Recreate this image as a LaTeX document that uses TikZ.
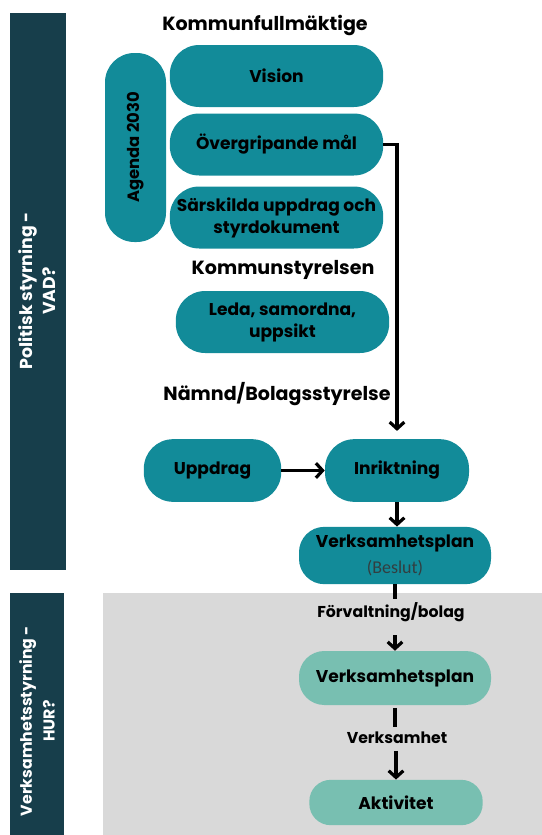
\documentclass[tikz,border=0pt]{standalone}
\usepackage{fontspec}
\setmainfont{Poppins}
\newfontfamily\notefont{Carlito}
\usepackage{xcolor}
\usepackage{tikz}
\usetikzlibrary{positioning, arrows.meta}
\definecolor{BarDark}{RGB}{23,62,75}
\definecolor{BoxTeal}{RGB}{18,139,153}
\definecolor{BoxLight}{RGB}{120,191,177}
\definecolor{HowGray}{RGB}{217,217,217}
\definecolor{NoteGray}{RGB}{50,62,64}
\tikzset{
  pill/.style={fill=BoxTeal, draw=none, rounded corners=22pt, align=center,
    font=\bfseries\fontsize{12.8}{16.5}\selectfont, inner sep=2pt, text=black},
  lightpill/.style={pill, fill=BoxLight},
  heading/.style={font=\bfseries\fontsize{14.3}{17}\selectfont, inner sep=1pt},
  flowlabel/.style={font=\bfseries\fontsize{11.8}{14}\selectfont, inner sep=2pt},
  bartext/.style={rotate=90, text=white, align=center, font=\bfseries\fontsize{13}{17}\selectfont},
  flow/.style={-{Straight Barb[length=5pt, width=11pt, line width=2.4pt]}, line width=2.4pt, black},
  plain/.style={line width=2.4pt, black},
}

\begin{document}
\begin{tikzpicture}[x=0.75pt, y=-0.75pt]
  \useasboundingbox (0,0) rectangle (542,835);
  % side bars and lower field
  \fill[BarDark] (10,13) rectangle (66,570);
  \fill[BarDark] (10,593) rectangle (64,835);
  \fill[HowGray] (103,593) rectangle (542,835);
  \node[bartext] (vad) at (37,291) {Politisk styrning -\\VAD?};
  \node[bartext, font=\bfseries\fontsize{11.8}{17}\selectfont] (hur) at (37,721)
    {Verksamhetsstyrning -\\HUR?};

  % Kommunfullmaktige
  \node[heading] (kf) at (265,25) {Kommunfullmäktige};
  \node[pill, minimum width=160pt, minimum height=46.5pt] (vision) at (276.5,76) {Vision};
  \node[pill, minimum width=160pt, minimum height=46.5pt] (ovg) at (276.5,144.5) {Övergripande mål};
  \node[pill, minimum width=160pt, minimum height=46.5pt] (sar) at (276.5,217.5)
    {Särskilda uppdrag och\\styrdokument};
  \node[pill, minimum width=141.75pt, minimum height=45.75pt, rotate=90,
    font=\bfseries\fontsize{12.3}{15}\selectfont] (agenda) at (135.5,147.5) {Agenda 2030};

  % Kommunstyrelsen
  \node[heading] (ks) at (283,270) {Kommunstyrelsen};
  \node[pill, minimum width=160pt, minimum height=46.5pt] (leda) at (282.5,322)
    {Leda, samordna,\\uppsikt};

  % Namnd/Bolagsstyrelse
  \node[heading] (nb) at (277,394) {Nämnd/Bolagsstyrelse};
  \node[pill, minimum width=103pt, minimum height=47pt] (upp) at (212.5,470.5) {Uppdrag};
  \node[pill, minimum width=108pt, minimum height=47pt] (inr) at (397,470.5) {Inriktning};
  \node[pill, minimum width=144pt, minimum height=43pt, rounded corners=19pt] (vp1) at (395,555.5)
    {Verksamhetsplan\\[3pt]{\mdseries\notefont\fontsize{13.5}{14}\selectfont\color{NoteGray}(Beslut)}};

  % Forvaltning/bolag
  \node[flowlabel] (forv) at (391,612) {Förvaltning/bolag};
  \node[lightpill, minimum width=144pt, minimum height=40.5pt, rounded corners=19pt] (vp2) at (395,678)
    {Verksamhetsplan};
  \node[flowlabel] (verk) at (397,738) {Verksamhet};
  \node[lightpill, minimum width=130pt, minimum height=34pt, rounded corners=16pt] (akt) at (396,802.5) {Aktivitet};

  \draw[flow, shorten >=6pt] (ovg.east) -| (inr.north);
  \draw[flow] (upp.east) -- (inr.west);
  \draw[flow] (inr.south) -- (inr.south |- vp1.north);
  \draw[plain] (vp1.south) -- (vp1.south |- forv.north);
  \draw[flow, shorten <=8pt] (vp2.north |- forv.south) -- (vp2.north);
  \draw[plain, shorten <=2pt] (vp2.south) -- ([yshift=2pt]vp2.south |- verk.north);
  \draw[flow, shorten <=3pt] (akt.north |- verk.south) -- (akt.north);
\end{tikzpicture}
\end{document}
